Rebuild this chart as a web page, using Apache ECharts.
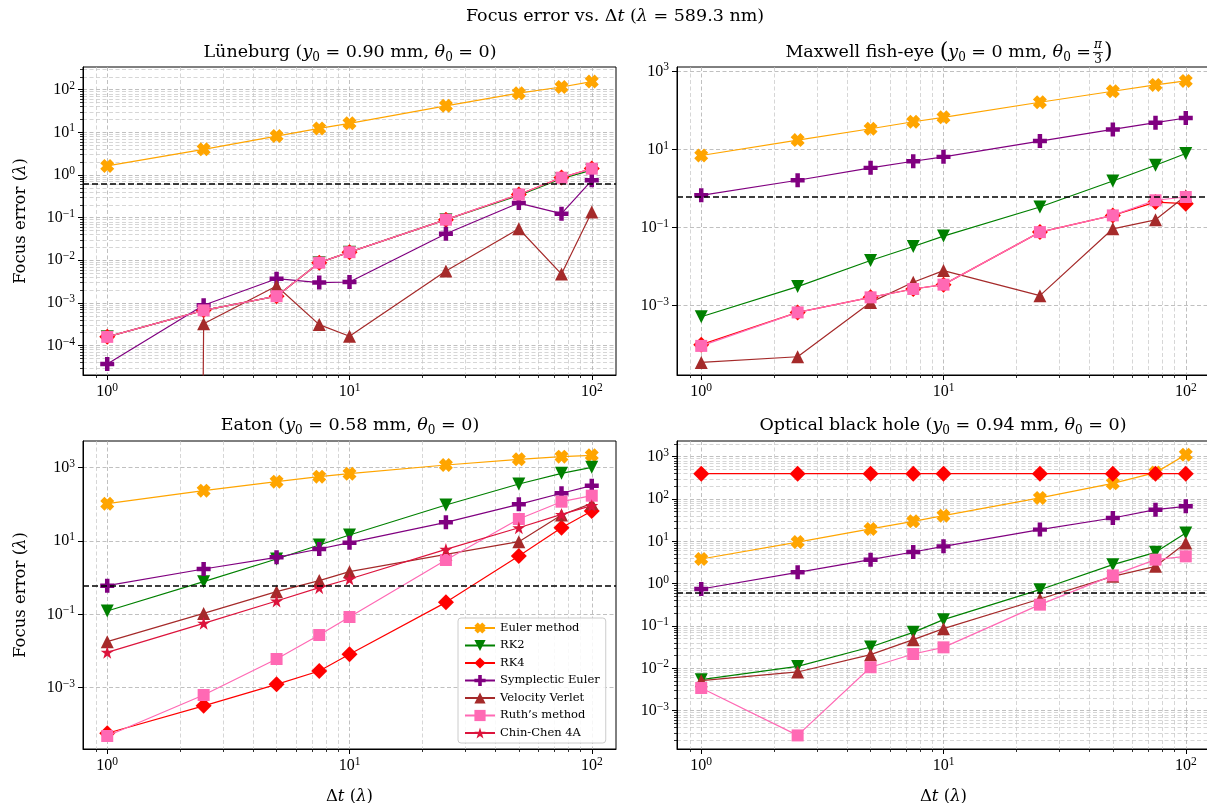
<!DOCTYPE html>
<html><head><meta charset="utf-8">
<script src="https://cdn.jsdelivr.net/npm/echarts@6/dist/echarts.min.js"></script>
<style>html,body{margin:0;padding:0;background:#fff}#c{width:1207px;height:803px}</style>
</head><body><div id="c"></div>
<script>
// ---------------- data ----------------
const dtValues = [1, 2.5, 5, 7.5, 10, 25, 50, 75, 100];
const methodNames = ['Euler method', 'RK2', 'RK4', 'Symplectic Euler', 'Velocity Verlet', 'Ruth\u2019s method', 'Chin-Chen 4A'];
const thresholdValue = 0.61;

// Lüneburg
const lunEuler = [1.63, 4.0, 8.2, 12.4, 16.3, 42, 83, 116, 155];
const lunRK2   = [1.6e-4, 6.7e-4, 1.44e-3, 8.8e-3, 1.55e-2, 0.0897, 0.33, 0.82, 1.30];
const lunRK4   = [1.6e-4, 6.7e-4, 1.44e-3, 8.8e-3, 1.55e-2, 0.0897, 0.35, 0.87, 1.42];
const lunSymp  = [3.7e-5, 8.8e-4, 3.7e-3, 3.0e-3, 3.1e-3, 0.042, 0.22, 0.124, 0.75];
const lunVV    = [0, 3.25e-4, 2.5e-3, 3.1e-4, 1.66e-4, 5.6e-3, 0.055, 4.75e-3, 0.136];
const lunRuth  = [1.6e-4, 6.7e-4, 1.44e-3, 8.8e-3, 1.55e-2, 0.0897, 0.349, 0.865, 1.41];

// Maxwell fish-eye
const mfeEuler = [7.0, 17.4, 34, 51.4, 66.5, 162, 310, 451, 571];
const mfeRK2   = [5.2e-4, 3.07e-3, 0.0143, 0.0327, 0.0604, 0.336, 1.56, 3.95, 7.9];
const mfeRK4   = [1.0e-4, 6.7e-4, 1.63e-3, 2.67e-3, 3.45e-3, 0.0764, 0.205, 0.45, 0.41];
const mfeSymp  = [0.67, 1.63, 3.38, 5.0, 6.47, 16.4, 32.7, 48.5, 64];
const mfeVV    = [3.5e-5, 4.9e-5, 1.21e-3, 3.96e-3, 7.9e-3, 1.8e-3, 0.093, 0.158, 0.65];
const mfeRuth  = [9.3e-5, 6.7e-4, 1.63e-3, 2.67e-3, 3.45e-3, 0.0764, 0.205, 0.5, 0.607];

// Eaton
const eatEuler = [104, 236, 415, 569, 685, 1183, 1688, 1995, 2170];
const eatRK2   = [0.123, 0.778, 3.23, 7.8, 14.6, 96, 359, 700, 1021];
const eatRK4   = [5.7e-5, 3.2e-4, 1.23e-3, 2.85e-3, 8.1e-3, 0.212, 3.9, 23, 66];
const eatSymp  = [0.605, 1.72, 3.59, 6.05, 9.0, 32.3, 100, 200, 323];
const eatVV    = [0.018, 0.106, 0.415, 0.83, 1.46, 4.3, 9.6, 51, 106];
const eatRuth  = [4.8e-5, 6.3e-4, 6.05e-3, 0.0273, 0.0846, 3.03, 39.8, 118, 172];
const eatCC    = [9.2e-3, 0.0569, 0.231, 0.533, 0.92, 5.9, 23, 53, 92];

// Optical black hole
const obhEuler = [3.83, 9.6, 19.6, 29.7, 40.4, 106, 234, 420, 1115];
const obhRK2   = [5.4e-3, 0.0111, 0.0319, 0.0708, 0.141, 0.72, 2.81, 5.5, 15.7];
const obhRK4   = [397, 397, 397, 397, 397, 397, 397, 397, 397];
const obhSymp  = [0.748, 1.85, 3.69, 5.6, 7.6, 18.9, 35.6, 56, 67];
const obhVV    = [5.1e-3, 8.2e-3, 0.021, 0.0475, 0.0865, 0.434, 1.49, 2.57, 9.1];
const obhRuth  = [3.43e-3, 2.6e-4, 0.0106, 0.0218, 0.0313, 0.319, 1.57, 3.69, 4.42];

// ticks
const xMajorTicks = [1, 10, 100];
const xMinorTicks = [0.9, 2, 3, 4, 5, 6, 7, 8, 9, 20, 30, 40, 50, 60, 70, 80, 90];
const yTicksEveryDecade = [1e-4, 1e-3, 1e-2, 1e-1, 1, 10, 100, 1000];
const yTicksEveryTwo = [1e-3, 1e-1, 10, 1000];
const yMinorTicks = [];
for (let k = -5; k <= 3; k++) for (let m = 2; m <= 9; m++) yMinorTicks.push(+(m * Math.pow(10, k)).toPrecision(3));

// ---------------- styling ----------------
const F = 'DejaVu Serif, Liberation Serif, serif';
const FN = 'Liberation Serif, DejaVu Serif, serif';
const styles = {
  'Euler method':     {color: '#FFA500', symbol: 'path://M3,0 L5,2 L7,0 L10,3 L8,5 L10,7 L7,10 L5,8 L3,10 L0,7 L2,5 L0,3 Z', size: 14},
  'RK2':              {color: '#008000', symbol: 'path://M0,0 L10,0 L5,9 Z', size: 13},
  'RK4':              {color: '#FF0000', symbol: 'diamond', size: 16},
  'Symplectic Euler': {color: '#800080', symbol: 'path://M3.4,0 L6.6,0 L6.6,3.4 L10,3.4 L10,6.6 L6.6,6.6 L6.6,10 L3.4,10 L3.4,6.6 L0,6.6 L0,3.4 L3.4,3.4 Z', size: 14},
  'Velocity Verlet':  {color: '#A52A2A', symbol: 'path://M5,0 L10,9 L0,9 Z', size: 13},
  'Ruth\u2019s method': {color: '#FF69B4', symbol: 'rect', size: 12},
  'Chin-Chen 4A':     {color: '#DC143C', symbol: 'path://M50,0 L61.2,34.5 L97.6,34.5 L68.2,55.9 L79.4,90.5 L50,69.1 L20.6,90.5 L31.8,55.9 L2.4,34.5 L38.8,34.5 Z', size: 13}
};

const panels = [
  {left: 83, top: 67, yMin: -4.69, yMax: 2.533, yTicks: yTicksEveryDecade, yMinor: true, yName: true, xName: false,
   series: [lunEuler, lunRK2, lunRK4, lunSymp, lunVV, lunRuth, null]},
  {left: 677, top: 67, yMin: -4.777, yMax: 3.113, yTicks: yTicksEveryTwo, yMinor: false, yName: false, xName: false,
   series: [mfeEuler, mfeRK2, mfeRK4, mfeSymp, mfeVV, mfeRuth, null]},
  {left: 83, top: 441, yMin: -4.673, yMax: 3.727, yTicks: yTicksEveryTwo, yMinor: false, yName: true, xName: true,
   series: [eatEuler, eatRK2, eatRK4, eatSymp, eatVV, eatRuth, eatCC]},
  {left: 677, top: 441, yMin: -3.906, yMax: 3.37, yTicks: yTicksEveryDecade, yMinor: true, yName: false, xName: true,
   series: [obhEuler, obhRK2, obhRK4, obhSymp, obhVV, obhRuth, null]}
];
const gridW = 533, gridH = 308;

const expRich = {
  b: {fontFamily: FN, fontSize: 16, lineHeight: 20, color: '#000'},
  s: {fontFamily: FN, fontSize: 11.5, lineHeight: 9, verticalAlign: 'top', color: '#000'}
};
function expLabel(v) {
  const e = Math.round(Math.log10(v));
  return '{b|10}{s|' + (e < 0 ? '\u2212' + (-e) : e) + '}';
}
const gridLine = {show: true, lineStyle: {color: '#b0b0b0', width: 0.8, type: [4, 2.5]}};
const gridLineMinor = {show: true, lineStyle: {color: '#c4c4c4', width: 0.7, type: [4, 2.5]}};
const nameRich = {u: {fontFamily: F, fontSize: 16.5, color: '#000'}, i: {fontFamily: F, fontSize: 16.5, fontStyle: 'italic', color: '#000'}};

const grids = [], xAxes = [], yAxes = [], series = [];
panels.forEach((p, g) => {
  grids.push({left: p.left, top: p.top, width: gridW, height: gridH, show: true, borderColor: '#000', borderWidth: 1,
    backgroundColor: 'transparent', containLabel: false, outerBoundsMode: 'none'});
  const xmin = Math.pow(10, -0.1), xmax = Math.pow(10, 2.1);
  xAxes.push({
    type: 'log', logBase: 10, gridIndex: g, min: xmin, max: xmax, position: 'bottom',
    axisLine: {show: true, onZero: false, lineStyle: {color: '#000', width: 1}},
    axisTick: {show: true, length: 5, lineStyle: {color: '#000'}, customValues: xMajorTicks},
    axisLabel: {customValues: xMajorTicks, formatter: expLabel, rich: expRich, margin: 7},
    splitLine: gridLine,
    name: p.xName ? '{u|\u0394}{i|t}{u| (}{i|\u03bb}{u|)}' : '',
    nameLocation: 'middle', nameGap: 39,
    nameTextStyle: {rich: nameRich}
  });
  xAxes.push({
    type: 'log', logBase: 10, gridIndex: g, min: xmin, max: xmax, position: 'bottom',
    axisLine: {show: false, onZero: false},
    axisTick: {show: true, length: 3, lineStyle: {color: '#000', width: 0.8}, customValues: xMinorTicks},
    axisLabel: {show: false},
    splitLine: gridLineMinor
  });
  const ymin = Math.pow(10, p.yMin), ymax = Math.pow(10, p.yMax);
  yAxes.push({
    type: 'log', logBase: 10, gridIndex: g, min: ymin, max: ymax, position: 'left',
    axisLine: {show: true, onZero: false, lineStyle: {color: '#000', width: 1}},
    axisTick: {show: true, length: 5, lineStyle: {color: '#000'}, customValues: p.yTicks},
    axisLabel: {customValues: p.yTicks, formatter: expLabel, rich: expRich, margin: 8},
    splitLine: gridLine,
    name: p.yName ? '{u|Focus error (}{i|\u03bb}{u|)}' : '',
    nameLocation: 'middle', nameGap: 54, nameRotate: 90,
    nameTextStyle: {rich: nameRich}
  });
  yAxes.push({
    type: 'log', logBase: 10, gridIndex: g, min: ymin, max: ymax, position: 'left',
    axisLine: {show: false, onZero: false},
    axisTick: {show: p.yMinor, length: 3, lineStyle: {color: '#000', width: 0.8}, customValues: yMinorTicks},
    axisLabel: {show: false},
    splitLine: p.yMinor ? gridLineMinor : {show: false}
  });
  p.series.forEach((vals, k) => {
    if (!vals) return;
    const name = methodNames[k];
    const st = styles[name];
    const s = {
      type: 'line', name: name, xAxisIndex: 2 * g, yAxisIndex: 2 * g,
      // non-positive values are clipped far below the axis, as a log plot does
      data: dtValues.map((x, i) => [x, vals[i] > 0 ? vals[i] : 1e-300]),
      symbol: st.symbol, symbolSize: st.size,
      itemStyle: {color: st.color, opacity: 1},
      lineStyle: {color: st.color, width: 1.2},
      clip: true, animation: false, z: 3 + k * 0.01
    };
    if (k === 0) {
      s.markLine = {silent: true, symbol: ['none', 'none'], label: {show: false}, animation: false,
        lineStyle: {color: '#000', width: 1.5, type: [6, 3]}, data: [{yAxis: thresholdValue}]};
    }
    series.push(s);
  });
});

const TS = 17.5;
const titleRich = {
  i: {fontFamily: F, fontSize: TS, fontStyle: 'italic', lineHeight: 24, color: '#000'},
  u: {fontFamily: F, fontSize: TS, lineHeight: 24, color: '#000'},
  sub: {fontFamily: F, fontSize: 12, lineHeight: 10, verticalAlign: 'bottom', color: '#000'},
  big: {fontFamily: F, fontSize: 22, lineHeight: 24, color: '#000'}
};
function titleText(x, y, text, align) {
  return {type: 'text', x: x, y: y, z: 100,
    style: {text: text, rich: titleRich, font: TS + 'px ' + F, align: align || 'center', verticalAlign: 'middle', fill: '#000'}};
}

const option = {
  backgroundColor: '#fff',
  animation: false,
  grid: grids, xAxis: xAxes, yAxis: yAxes, series: series,
  legend: {
    data: methodNames, orient: 'vertical', left: 458, top: 618,
    itemWidth: 30, itemHeight: 14, itemGap: 5.5,
    padding: [4, 6, 4, 6],
    backgroundColor: 'rgba(255,255,255,0.85)', borderColor: '#cccccc', borderWidth: 1, borderRadius: 3,
    textStyle: {fontFamily: F, fontSize: 11.5, color: '#000'},
    selectedMode: false
  },
  graphic: [
    titleText(615, 16, '{u|Focus error vs. \u0394}{i|t}{u| (}{i|\u03bb}{u| = 589.3 nm)}'),
    titleText(350, 52, '{u|L\u00fcneburg (}{i|y}{sub|0}{u| = 0.90 mm, }{i|\u03b8}{sub|0}{u| = 0)}'),
    titleText(1091, 52, '{u|Maxwell fish-eye }{big|(}{i|y}{sub|0}{u| = 0 mm, }{i|\u03b8}{sub|0}{u| =}', 'right'),
    {type: 'text', x: 1098, y: 45, z: 100, style: {text: '\u03c0', font: 'italic 12px ' + F, align: 'center', verticalAlign: 'middle', fill: '#000'}},
    {type: 'line', z: 100, shape: {x1: 1093, y1: 52.5, x2: 1103, y2: 52.5}, style: {stroke: '#000', lineWidth: 0.8}},
    {type: 'text', x: 1098, y: 60, z: 100, style: {text: '3', font: '12px ' + F, align: 'center', verticalAlign: 'middle', fill: '#000'}},
    {type: 'text', x: 1104, y: 52, z: 100, style: {text: ')', font: '22px ' + F, align: 'left', verticalAlign: 'middle', fill: '#000'}},
    titleText(350, 425, '{u|Eaton (}{i|y}{sub|0}{u| = 0.58 mm, }{i|\u03b8}{sub|0}{u| = 0)}'),
    titleText(943, 425, '{u|Optical black hole (}{i|y}{sub|0}{u| = 0.94 mm, }{i|\u03b8}{sub|0}{u| = 0)}')
  ]
};
const chart = echarts.init(document.getElementById('c'), null, {renderer: 'canvas'});
chart.setOption(option);
</script></body></html>
